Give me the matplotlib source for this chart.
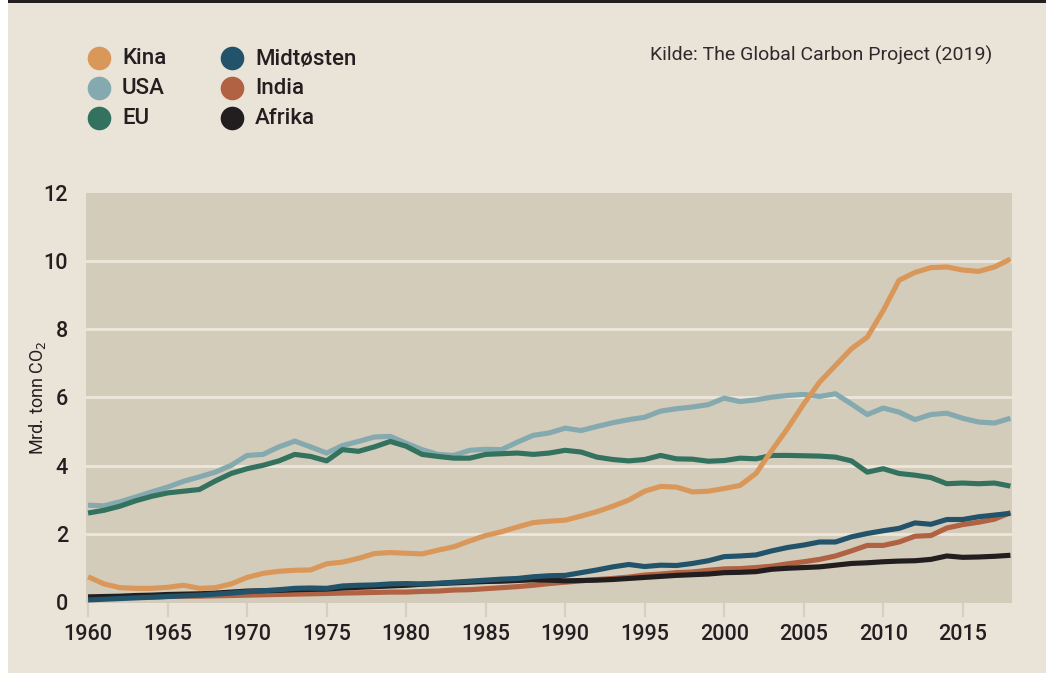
import matplotlib
matplotlib.use("Agg")
import matplotlib.pyplot as plt
from matplotlib.patches import Rectangle

# Data (Mrd. tonn CO2)
years = list(range(1960, 2019))

kina = [0.74, 0.53, 0.42, 0.40, 0.40, 0.43, 0.49, 0.40, 0.42, 0.53,
        0.72, 0.84, 0.90, 0.93, 0.94, 1.12, 1.17, 1.28, 1.42, 1.45,
        1.43, 1.41, 1.52, 1.62, 1.79, 1.95, 2.06, 2.20, 2.33, 2.37,
        2.40, 2.52, 2.65, 2.81, 2.99, 3.25, 3.39, 3.37, 3.23, 3.25,
        3.33, 3.42, 3.77, 4.45, 5.10, 5.81, 6.45, 6.94, 7.43, 7.77,
        8.55, 9.44, 9.67, 9.81, 9.83, 9.74, 9.70, 9.83, 10.06]

usa = [2.84, 2.82, 2.94, 3.08, 3.23, 3.37, 3.54, 3.67, 3.81, 4.01,
       4.30, 4.33, 4.55, 4.72, 4.55, 4.37, 4.59, 4.71, 4.84, 4.86,
       4.66, 4.47, 4.33, 4.30, 4.45, 4.48, 4.47, 4.69, 4.89, 4.96,
       5.10, 5.03, 5.15, 5.26, 5.35, 5.42, 5.60, 5.67, 5.72, 5.79,
       5.98, 5.88, 5.93, 6.01, 6.06, 6.09, 6.03, 6.11, 5.81, 5.50,
       5.69, 5.57, 5.35, 5.50, 5.54, 5.39, 5.28, 5.25, 5.39]

eu = [2.61, 2.69, 2.81, 2.97, 3.10, 3.20, 3.25, 3.30, 3.55, 3.77,
      3.91, 4.01, 4.14, 4.33, 4.27, 4.14, 4.47, 4.42, 4.55, 4.71,
      4.57, 4.33, 4.27, 4.22, 4.22, 4.33, 4.35, 4.37, 4.33, 4.37,
      4.45, 4.40, 4.25, 4.18, 4.14, 4.18, 4.30, 4.20, 4.19, 4.13,
      4.15, 4.22, 4.20, 4.30, 4.30, 4.29, 4.28, 4.25, 4.14, 3.81,
      3.91, 3.77, 3.72, 3.65, 3.47, 3.49, 3.47, 3.49, 3.40]

midtosten = [0.06, 0.08, 0.10, 0.12, 0.14, 0.16, 0.18, 0.20, 0.23, 0.26,
             0.30, 0.33, 0.36, 0.40, 0.41, 0.40, 0.47, 0.49, 0.50, 0.53,
             0.54, 0.53, 0.55, 0.58, 0.61, 0.64, 0.67, 0.69, 0.74, 0.77,
             0.78, 0.86, 0.94, 1.03, 1.10, 1.04, 1.08, 1.07, 1.13, 1.21,
             1.33, 1.35, 1.38, 1.50, 1.60, 1.67, 1.76, 1.76, 1.91, 2.01,
             2.09, 2.16, 2.32, 2.28, 2.42, 2.42, 2.50, 2.55, 2.60]

india = [0.11, 0.12, 0.13, 0.14, 0.14, 0.16, 0.17, 0.17, 0.18, 0.19,
         0.20, 0.21, 0.22, 0.23, 0.24, 0.25, 0.26, 0.27, 0.28, 0.29,
         0.29, 0.31, 0.32, 0.35, 0.36, 0.39, 0.42, 0.45, 0.49, 0.54,
         0.58, 0.62, 0.66, 0.69, 0.73, 0.79, 0.82, 0.86, 0.88, 0.93,
         0.97, 0.98, 1.01, 1.05, 1.12, 1.18, 1.25, 1.35, 1.50, 1.66,
         1.66, 1.76, 1.93, 1.95, 2.17, 2.27, 2.34, 2.43, 2.62]

afrika = [0.15, 0.16, 0.17, 0.19, 0.20, 0.22, 0.23, 0.24, 0.26, 0.29,
          0.32, 0.33, 0.34, 0.36, 0.37, 0.38, 0.41, 0.43, 0.45, 0.47,
          0.49, 0.52, 0.54, 0.56, 0.58, 0.60, 0.61, 0.63, 0.65, 0.64,
          0.62, 0.63, 0.64, 0.66, 0.69, 0.72, 0.75, 0.78, 0.80, 0.82,
          0.86, 0.87, 0.89, 0.96, 0.99, 1.01, 1.03, 1.08, 1.13, 1.15,
          1.18, 1.20, 1.21, 1.25, 1.35, 1.31, 1.32, 1.34, 1.37]

names = ['Kina', 'USA', 'EU', 'Midtøsten', 'India', 'Afrika']
series = [kina, usa, eu, midtosten, india, afrika]
colors = ['#d9975a', '#84a9ae', '#33725f', '#22536a', '#b06242', '#221e1f']
draw_order = [4, 5, 3, 1, 2, 0]  # India, Afrika, Midtøsten, USA, EU, Kina

x_ticks = [1960, 1965, 1970, 1975, 1980, 1985, 1990, 1995, 2000, 2005, 2010, 2015]
y_ticks = [0, 2, 4, 6, 8, 10, 12]

bg = '#e9e3d8'
plot_bg = '#d4ccba'
grid_c = '#ece6dc'
text_c = '#231f20'

W, H = 1046, 673
fig = plt.figure(figsize=(W / 100, H / 100), dpi=100, facecolor=bg)

# plot area in pixels: x 86..1012, y 193..603
ax = fig.add_axes([86 / W, 1 - 603 / H, 926 / W, 410 / H])
ax.set_facecolor(plot_bg)
for s in ax.spines.values():
    s.set_visible(False)

for yv in y_ticks[1:-1]:
    ax.axhline(yv, color=grid_c, lw=2.0, zorder=1)

for i in draw_order:
    ax.plot(years, series[i], color=colors[i], lw=3.7, zorder=3,
            solid_capstyle='butt', solid_joinstyle='round')

ax.set_xlim(1959.87, 2018.1)
ax.set_ylim(-0.03, 12.0)
ax.set_xticks(x_ticks)
ax.set_yticks(y_ticks)

tick_font = dict(family='Roboto', weight='medium', size=15.5)
ax.set_xticklabels([str(v) for v in x_ticks], fontdict=tick_font, color=text_c)
ax.set_yticklabels([str(v) for v in y_ticks], fontdict=tick_font, color=text_c)
ax.tick_params(axis='x', length=10, width=1.5, color='#d6cebf', pad=5, direction='out')
ax.tick_params(axis='y', length=0, pad=13)

ax.set_ylabel('Mrd. tonn CO$_2$', family='Roboto', size=13, color=text_c)
ax.yaxis.set_label_coords(-0.041, 0.5)

# overlay in pixel coordinates for legend, source text and frame
ov = fig.add_axes([0, 0, 1, 1], zorder=-1)
ov.set_xlim(0, W)
ov.set_ylim(H, 0)
ov.axis('off')
ov.add_patch(Rectangle((0, 0), 8, H, color='white', lw=0))
ov.add_patch(Rectangle((8, 0), W - 8, 2.5, color='#231f20', lw=0))

leg_x = [99, 99, 99, 232, 232, 232]
leg_y = [58, 88, 118, 58, 88, 118]
for i in range(len(names)):
    ov.scatter(leg_x[i], leg_y[i], s=17 ** 2, color=colors[i], lw=0)
    ov.text(leg_x[i] + 23, leg_y[i] + 1, names[i], family='Roboto', weight='medium',
            size=16, color=text_c, va='center', ha='left')

ov.text(992, 55, 'Kilde: The Global Carbon Project (2019)', family='Roboto',
        weight='normal', size=14, color='#2e2a2b', ha='right', va='center')

fig.savefig('out.png', dpi=100, facecolor=bg)
